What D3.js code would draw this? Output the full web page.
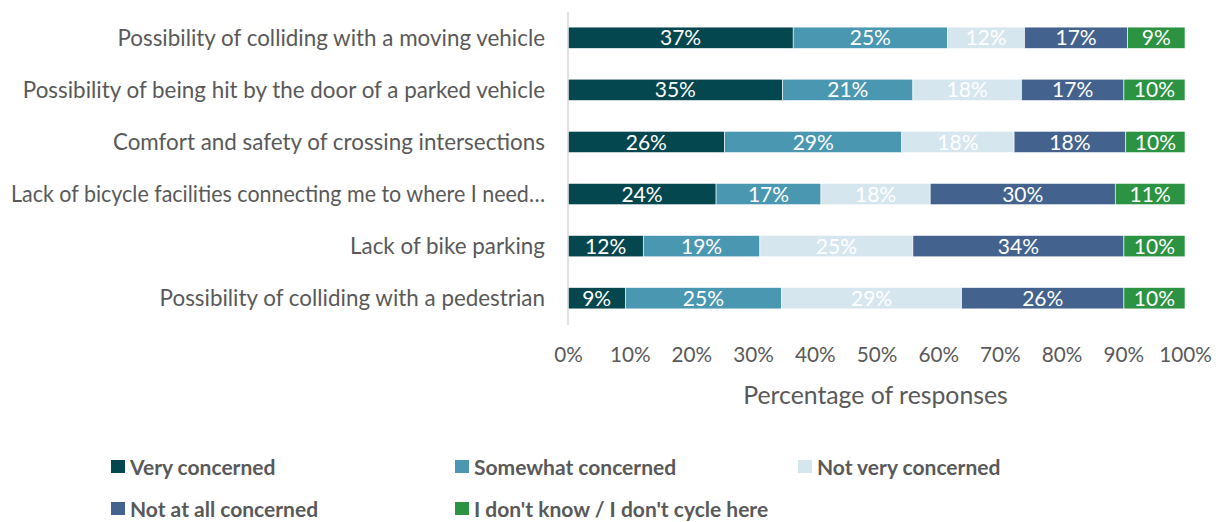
<!DOCTYPE html>
<html>
<head>
  <meta charset="utf-8">
  <script src="https://d3js.org/d3.v7.min.js"></script>
  <style>
    body { margin: 0; background: #fff; }
    svg { font-family: Lato, "Open Sans", sans-serif; }
  </style>
</head>
<body>
  <div id="chart"></div>
  <script>
    var categories = [
      "Possibility of colliding with a moving vehicle",
      "Possibility of being hit by the door of a parked vehicle",
      "Comfort and safety of crossing intersections",
      "Lack of bicycle facilities connecting me to where I need\u2026",
      "Lack of bike parking",
      "Possibility of colliding with a pedestrian"
    ];
    var seriesNames = ["Very concerned", "Somewhat concerned", "Not very concerned",
      "Not at all concerned", "I don't know / I don't cycle here"];
    var colors = ["#05474f", "#4a97b2", "#d6e6ef", "#43638e", "#2b9341"];

    // value per category for each series (percent)
    var veryConcerned   = [36.5, 34.8, 25.4, 24.0, 12.2, 9.3];
    var somewhat        = [25.0, 21.1, 28.7, 17.0, 18.9, 25.3];
    var notVery         = [12.5, 17.6, 18.2, 17.7, 24.8, 29.2];
    var notAtAll        = [16.7, 16.6, 18.1, 30.0, 34.2, 26.3];
    var dontKnow        = [9.3, 9.9, 9.6, 11.3, 9.9, 9.9];
    var labels = [
      ["37%", "35%", "26%", "24%", "12%", "9%"],
      ["25%", "21%", "29%", "17%", "19%", "25%"],
      ["12%", "18%", "18%", "18%", "25%", "29%"],
      ["17%", "17%", "18%", "30%", "34%", "26%"],
      ["9%", "10%", "10%", "11%", "10%", "10%"]
    ];
    var ticks = [0, 10, 20, 30, 40, 50, 60, 70, 80, 90, 100];

    var series = [veryConcerned, somewhat, notVery, notAtAll, dontKnow];

    var width = 1219, height = 522;
    var svg = d3.select("#chart").append("svg")
      .attr("width", width).attr("height", height);

    var x = d3.scaleLinear().domain([0, 100]).range([568, 1185]);
    var y = d3.scaleBand().domain(categories).range([12, 324]).paddingInner(0.59).paddingOuter(0.29);

    var rows = categories.map(function (c, i) {
      var acc = 0;
      return series.map(function (s, k) {
        var seg = { cat: c, k: k, x0: acc, x1: acc + s[i], label: labels[k][i] };
        acc += s[i];
        return seg;
      });
    });
    // normalise each row to 100
    rows.forEach(function (r) {
      var tot = r[r.length - 1].x1;
      r.forEach(function (s) { s.x0 = s.x0 / tot * 100; s.x1 = s.x1 / tot * 100; });
    });
    var segs = d3.merge(rows);

    svg.append("g").selectAll("rect").data(segs).join("rect")
      .attr("x", function (d) { return x(d.x0); })
      .attr("width", function (d) { return x(d.x1) - x(d.x0); })
      .attr("y", function (d) { return y(d.cat); })
      .attr("height", y.bandwidth())
      .attr("fill", function (d) { return colors[d.k]; })
      .attr("stroke", "#fff").attr("stroke-width", 0.6);

    svg.append("g").selectAll("text").data(segs).join("text")
      .attr("x", function (d) { return (x(d.x0) + x(d.x1)) / 2; })
      .attr("y", function (d) { return y(d.cat) + y.bandwidth() / 2; })
      .attr("dy", "0.36em")
      .attr("text-anchor", "middle")
      .attr("fill", "#fff")
      .style("font-size", "21px")
      .text(function (d) { return d.label; });

    // vertical axis line
    svg.append("line")
      .attr("x1", x(0)).attr("x2", x(0))
      .attr("y1", 12).attr("y2", 325)
      .attr("stroke", "#d9d9d9").attr("stroke-width", 1.5);

    // category labels
    svg.append("g").selectAll("text").data(categories).join("text")
      .attr("x", 545)
      .attr("y", function (d) { return y(d) + y.bandwidth() / 2; })
      .attr("dy", "0.36em")
      .attr("text-anchor", "end")
      .attr("fill", "#595959")
      .style("font-size", "22.4px")
      .text(function (d) { return d; })
      .each(function () {
        // keep long labels inside the left edge
        if (this.getComputedTextLength() > 534) {
          d3.select(this).attr("textLength", 534).attr("lengthAdjust", "spacingAndGlyphs");
        }
      });

    // x axis
    var xAxis = d3.axisBottom(x).tickValues(ticks).tickSize(0).tickPadding(0)
      .tickFormat(function (d) { return d + "%"; });
    var gx = svg.append("g").attr("transform", "translate(0,347)").call(xAxis);
    gx.select(".domain").remove();
    gx.selectAll("text").attr("fill", "#595959").style("font-size", "20.7px")
      .style("font-family", "Lato, sans-serif");

    svg.append("text")
      .attr("x", (x(0) + x(100)) / 2 - 1).attr("y", 404)
      .attr("text-anchor", "middle").attr("fill", "#595959")
      .style("font-size", "24.8px")
      .text("Percentage of responses");

    // legend
    var legendPos = [[111, 467], [455, 467], [798, 467], [111, 509], [455, 509]];
    var lg = svg.append("g").selectAll("g").data(seriesNames).join("g")
      .attr("transform", function (d, i) { return "translate(" + legendPos[i][0] + "," + legendPos[i][1] + ")"; });
    lg.append("rect").attr("x", 0).attr("y", -7).attr("width", 14).attr("height", 13)
      .attr("fill", function (d, i) { return colors[i]; });
    lg.append("text").attr("x", 19).attr("dy", "0.36em")
      .attr("fill", "#595959").style("font-size", "21px").style("font-weight", "bold")
      .text(function (d) { return d; });
  </script>
</body>
</html>
